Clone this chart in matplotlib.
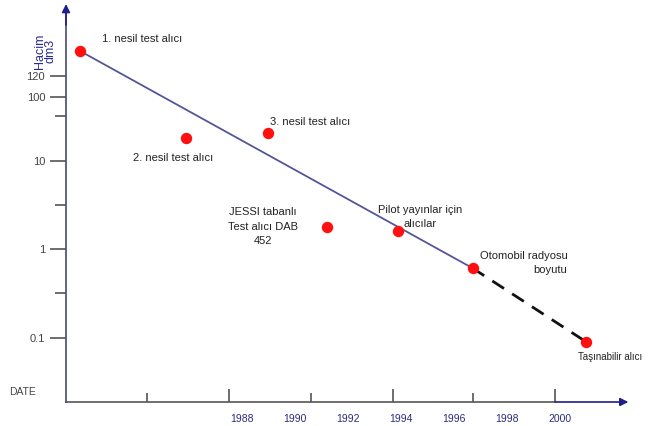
import numpy as np
import matplotlib
matplotlib.use("Agg")
import matplotlib.pyplot as plt
from matplotlib import font_manager

# ---- data ----
labels = ["1. nesil test alıcı", "2. nesil test alıcı", "3. nesil test alıcı",
          "JESSI tabanlı\nTest alıcı DAB\n452", "Pilot yayınlar için\nalıcılar",
          "Otomobil radyosu\nboyutu", "Taşınabilir alıcı"]
years = [1981.9, 1985.9, 1989.0, 1991.2, 1993.9, 1996.7, 2001.0]
volumes = [230, 23, 27, 1.8, 1.6, 0.61, 0.09]          # dm3
trend_solid_idx = [0, 5]
trend_dashed_idx = [5, 6]
year_labels = [1988, 1990, 1992, 1994, 1996, 1998, 2000]
x_ticks_long = [1987.5, 1993.7, 1999.8]
x_ticks_short = [1984.4, 1990.6, 1996.7]
y_tick_vals = [0.1, 1, 10, 100, 120]
y_tick_labels = ["0.1", "1", "10", "100", "120"]
y_minor_vals = [0.32, 3.16, 50]

# ---- non-uniform (schematic) log scale of the original ----
LOGK = [-3.0, -1.0, 0.0, 1.0, 2.0, np.log10(120), np.log10(120) + 3]
POSK = [-178.0, 0.0, 89.0, 177.0, 241.0, 262.0, 526.0]

def fwd(v):
    v = np.asarray(v, dtype=float)
    return np.interp(np.log10(np.clip(v, 1e-9, None)), LOGK, POSK)

def inv(p):
    return 10 ** np.interp(np.asarray(p, dtype=float), POSK, LOGK)

avail = {f.name for f in font_manager.fontManager.ttflist}
fam = ["Liberation Sans Narrow", "Liberation Sans", "DejaVu Sans"]
fam = [f for f in fam if f in avail] or ["DejaVu Sans"]
plt.rcParams["font.family"] = fam

W, H = 653, 426
fig = plt.figure(figsize=(W / 100, H / 100), dpi=100)
ax_l, ax_b = 66 / W, (H - 402) / H
ax = fig.add_axes([ax_l, ax_b, 1 - ax_l, 1 - ax_b])
ax.set_yscale("function", functions=(fwd, inv))
ax.set_xlim(1981.36, 2003.51)
ax.set_ylim(float(inv(-64)), float(inv(338)))

for s in ["top", "right", "bottom"]:
    ax.spines[s].set_visible(False)
ax.spines["left"].set_color("#4a4a70")
ax.spines["left"].set_linewidth(1.2)
ax.spines["left"].set_bounds(float(inv(-64)), float(inv(328)))

axis_grey = "#555555"
# x axis: grey part then blue arrow part
ax.plot([0, (555 - 66) / 587], [0, 0], transform=ax.transAxes, color=axis_grey,
        lw=1.2, clip_on=False)
ax.annotate("", xy=(0.958, 0), xytext=((555 - 66) / 587, 0), xycoords="axes fraction",
            textcoords="axes fraction",
            arrowprops=dict(arrowstyle="-|>", color="#1f1f8c", lw=1.2,
                            mutation_scale=12, shrinkA=0, shrinkB=0))
# y axis arrow
ax.annotate("", xy=(0, (402 - 4) / 402), xytext=(0, (402 - 25) / 402),
            xycoords="axes fraction", textcoords="axes fraction",
            arrowprops=dict(arrowstyle="-|>", color="#1f1f8c", lw=1.2,
                            mutation_scale=12, shrinkA=0, shrinkB=0))

# y ticks
ax.set_yticks(y_tick_vals)
ax.set_yticklabels(y_tick_labels)
ax.set_yticks(y_minor_vals, minor=True)
ax.yaxis.set_minor_formatter(plt.NullFormatter())
ax.tick_params(axis="y", which="major", direction="out", length=11.5, width=1.2,
               color=axis_grey, labelsize=8, labelcolor="#444444", pad=3.5)
ax.tick_params(axis="y", which="minor", direction="out", length=8, width=1.2,
               color=axis_grey)

# x ticks (inward), labels via secondary axis
ax.set_xticks(x_ticks_long)
ax.set_xticks(x_ticks_short, minor=True)
ax.xaxis.set_major_formatter(plt.NullFormatter())
ax.xaxis.set_minor_formatter(plt.NullFormatter())
ax.tick_params(axis="x", which="major", direction="in", length=9.5, width=1.2,
               color=axis_grey)
ax.tick_params(axis="x", which="minor", direction="in", length=6.5, width=1.2,
               color=axis_grey)
sec = ax.secondary_xaxis("bottom")
sec.spines["bottom"].set_visible(False)
sec.set_xticks(year_labels)
sec.set_xticklabels([str(y) for y in year_labels])
sec.tick_params(length=0, pad=9, labelsize=7.5, labelcolor="#2a2a80")

# trend lines
ax.plot([years[i] for i in trend_solid_idx], [volumes[i] for i in trend_solid_idx],
        color="#55559a", lw=1.3, zorder=2)
ax.plot([years[i] for i in trend_dashed_idx], [volumes[i] for i in trend_dashed_idx],
        color="#111111", lw=2.0, dashes=(5, 3.5), zorder=2)

# points
ax.plot(years, volumes, "o", color="#ff1010", markersize=7.2, zorder=3,
        linestyle="none", clip_on=False)

# annotations (offsets in pixels)
txt = dict(color="#222222", textcoords="offset pixels")
offsets = [((22, 12), "left", "center", 8),
           ((-53, -20), "left", "center", 8),
           ((2, 11), "left", "center", 8),
           ((-64, 0), "center", "center", 8),
           ((22, 14), "center", "center", 8),
           ((95, 5), "right", "center", 8),
           ((-8, -15), "left", "center", 7)]
for i, lab in enumerate(labels):
    (dx, dy), ha, va, fs = offsets[i]
    ax.annotate(lab, xy=(years[i], volumes[i]), xytext=(dx, dy), ha=ha, va=va,
                linespacing=1.55, fontsize=fs, **txt)

fig.text(45 / W, 1 - 51 / H, "Hacim\ndm3", rotation=90, ha="center", va="center",
         fontsize=9, color="#2b2b90", linespacing=0.85)
fig.text(22 / W, 1 - 392 / H, "DATE", ha="center", va="center", fontsize=7.5,
         color="#444444")

fig.savefig("out.png", dpi=100)
